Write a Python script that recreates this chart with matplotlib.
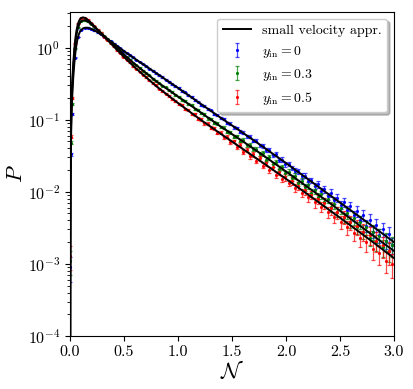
"""
Distribution P(N) of the number of e-folds: binned simulation data with
error bars for three initial velocities, compared with the small velocity
approximation (black lines).
"""

import matplotlib
matplotlib.use('Agg')
import matplotlib.pyplot as plt
import numpy as np
from matplotlib.colors import to_rgba

plt.rcParams['font.family'] = 'serif'
plt.rcParams['font.serif'] = ['cmr10', 'DejaVu Serif']
plt.rcParams['mathtext.fontset'] = 'cm'
plt.rcParams['axes.formatter.use_mathtext'] = True

# ---- simulation histograms (bin centres and values) ----
n_data = [0.003, 0.008] + list(np.round(0.015 + 0.03 * np.arange(100), 3))

p_y0 = [9e-4, 0.033, 0.12, 0.72, 1.40, 1.77, 1.86, 1.88, 1.80, 1.73, 1.62, 1.53, 1.41,
        1.32, 1.23, 1.13, 1.05, 0.97, 0.90, 0.84, 0.78, 0.73,
        0.67, 0.63, 0.59, 0.55, 0.51, 0.48, 0.44,
        0.415, 0.39, 0.36, 0.335, 0.31, 0.29,
        0.275, 0.249, 0.238, 0.217, 0.206, 0.187, 0.178, 0.161, 0.154, 0.139, 0.134, 0.121, 0.116, 0.104,
        0.101, 0.090, 0.088, 0.078, 0.077, 0.068, 0.066, 0.059, 0.058, 0.051,
        0.051, 0.044, 0.043, 0.038, 0.038, 0.032, 0.033, 0.028, 0.028, 0.024,
        0.0244, 0.0213, 0.0196, 0.0194, 0.0166, 0.0168, 0.0142, 0.0144, 0.0122, 0.0127, 0.0104, 0.0108, 0.0087,
        0.0097, 0.0076, 0.0082, 0.0066, 0.0072, 0.0055, 0.0063, 0.0047, 0.0054, 0.0040,
        0.0047, 0.0034, 0.0041, 0.0028, 0.0035, 0.0025, 0.0030, 0.0021, 0.0026, 0.0018]

p_y03 = [1.1e-3, 0.048, 0.165, 0.98, 1.90, 2.32, 2.37, 2.30, 2.11, 1.94, 1.74, 1.61, 1.44,
         1.33, 1.18, 1.09, 0.98, 0.90, 0.81, 0.74, 0.68, 0.61,
         0.57, 0.52, 0.48, 0.44, 0.41, 0.37, 0.345,
         0.32, 0.295, 0.28, 0.255, 0.24, 0.22,
         0.209, 0.189, 0.182, 0.163, 0.158, 0.141, 0.137, 0.122, 0.118, 0.104, 0.102, 0.091, 0.089, 0.079,
         0.077, 0.068, 0.067, 0.058, 0.059, 0.051, 0.052, 0.044, 0.045, 0.039,
         0.039, 0.033, 0.034, 0.028, 0.030, 0.024, 0.026, 0.021, 0.022, 0.018,
         0.0188, 0.0155, 0.0164, 0.0132, 0.0141, 0.0115, 0.0123, 0.0097, 0.0106, 0.0085, 0.0092, 0.0073, 0.0080,
         0.0062, 0.0068, 0.0053, 0.0059, 0.0044, 0.0051, 0.0038, 0.0043, 0.0032, 0.0038,
         0.0028, 0.0032, 0.0023, 0.0028, 0.0020, 0.0024, 0.0017, 0.0021, 0.0015, 0.0018]

p_y05 = [1.3e-3, 0.058, 0.20, 1.13, 2.15, 2.58, 2.57, 2.43, 2.18, 1.98, 1.76, 1.60, 1.42,
         1.29, 1.14, 1.04, 0.92, 0.84, 0.75, 0.68, 0.62, 0.55,
         0.51, 0.46, 0.42, 0.39, 0.35, 0.32, 0.30,
         0.27, 0.25, 0.23, 0.215, 0.195, 0.18,
         0.166, 0.158, 0.141, 0.137, 0.121, 0.118, 0.103, 0.101, 0.089, 0.088, 0.077, 0.076, 0.066, 0.066,
         0.057, 0.058, 0.049, 0.050, 0.042, 0.044, 0.036, 0.038, 0.031, 0.033,
         0.027, 0.029, 0.023, 0.025, 0.020, 0.022, 0.017, 0.019, 0.015, 0.016,
         0.0133, 0.0141, 0.0113, 0.0121, 0.0097, 0.0105, 0.0084, 0.0091, 0.0071, 0.0079, 0.0062, 0.0069, 0.0052,
         0.0059, 0.0045, 0.0052, 0.0038, 0.0045, 0.0032, 0.0038, 0.0027, 0.0033, 0.0023,
         0.0028, 0.0020, 0.0025, 0.0016, 0.0021, 0.0014, 0.0018, 0.0011, 0.0015, 0.0010]

# relative statistical errors of the bins
err_y0 = [0.37, 0.06, 0.032, 0.013, 0.009, 0.008, 0.008, 0.008, 0.008, 0.008, 0.008, 0.008, 0.009,
          0.010, 0.010, 0.010, 0.011, 0.011, 0.012, 0.012, 0.012, 0.013,
          0.014, 0.014, 0.014, 0.015, 0.015, 0.016, 0.017,
          0.017, 0.018, 0.018, 0.019, 0.020, 0.020,
          0.021, 0.022, 0.023, 0.024, 0.024, 0.025, 0.026, 0.027, 0.028, 0.029, 0.030, 0.031, 0.032, 0.034,
          0.035, 0.036, 0.038, 0.039, 0.040, 0.042, 0.043, 0.045, 0.047, 0.048,
          0.050, 0.052, 0.054, 0.056, 0.058, 0.060, 0.062, 0.064, 0.067, 0.069,
          0.072, 0.074, 0.077, 0.080, 0.083, 0.086, 0.089, 0.092, 0.096, 0.10, 0.10, 0.11, 0.11,
          0.12, 0.12, 0.13, 0.13, 0.14, 0.14, 0.15, 0.15, 0.16, 0.17,
          0.17, 0.18, 0.19, 0.19, 0.20, 0.21, 0.22, 0.23, 0.24, 0.25]

err_y03 = [0.36, 0.055, 0.03, 0.012, 0.009, 0.008, 0.008, 0.008, 0.008, 0.009, 0.009, 0.009, 0.010,
           0.010, 0.011, 0.012, 0.012, 0.013, 0.013, 0.014, 0.015, 0.015,
           0.016, 0.017, 0.017, 0.018, 0.019, 0.020, 0.020,
           0.021, 0.022, 0.023, 0.024, 0.025, 0.026,
           0.026, 0.027, 0.028, 0.030, 0.030, 0.032, 0.033, 0.034, 0.035, 0.037, 0.038, 0.039, 0.041, 0.042,
           0.044, 0.045, 0.047, 0.049, 0.050, 0.052, 0.054, 0.056, 0.058, 0.060,
           0.062, 0.064, 0.067, 0.069, 0.072, 0.075, 0.077, 0.080, 0.083, 0.086,
           0.090, 0.093, 0.097, 0.10, 0.10, 0.11, 0.11, 0.12, 0.12, 0.13, 0.13, 0.14, 0.14,
           0.15, 0.15, 0.16, 0.17, 0.17, 0.18, 0.18, 0.19, 0.20, 0.21,
           0.22, 0.22, 0.23, 0.24, 0.25, 0.26, 0.27, 0.28, 0.29, 0.30]

err_y05 = [0.36, 0.054, 0.029, 0.012, 0.009, 0.008, 0.008, 0.008, 0.009, 0.009, 0.010, 0.010, 0.011,
           0.011, 0.012, 0.013, 0.014, 0.014, 0.015, 0.016, 0.017, 0.018,
           0.018, 0.019, 0.020, 0.021, 0.022, 0.023, 0.024,
           0.025, 0.026, 0.027, 0.028, 0.029, 0.031,
           0.032, 0.033, 0.034, 0.036, 0.037, 0.038, 0.040, 0.041, 0.043, 0.045, 0.046, 0.048, 0.050, 0.052,
           0.053, 0.055, 0.057, 0.059, 0.061, 0.064, 0.066, 0.068, 0.071, 0.073,
           0.076, 0.079, 0.082, 0.085, 0.088, 0.091, 0.094, 0.098, 0.10, 0.11,
           0.11, 0.12, 0.12, 0.12, 0.13, 0.13, 0.14, 0.14, 0.15, 0.15, 0.16, 0.17, 0.17,
           0.18, 0.18, 0.19, 0.20, 0.21, 0.21, 0.22, 0.23, 0.24, 0.25,
           0.26, 0.27, 0.28, 0.29, 0.30, 0.31, 0.32, 0.33, 0.35, 0.36]

# ---- small velocity approximation ----
n_theory = [0.002, 0.003, 0.005, 0.008, 0.012, 0.016, 0.02, 0.03, 0.04, 0.05,
            0.06, 0.07, 0.08, 0.09, 0.10, 0.12, 0.14, 0.16, 0.18, 0.20,
            0.24, 0.28, 0.32, 0.40, 0.50, 0.60, 0.70, 0.80, 0.90, 1.0,
            1.2, 1.4, 1.6, 1.8, 2.0, 2.2, 2.4, 2.6, 2.8, 3.0]

th_y0 = [6e-5, 8e-4, 7.9e-3, 0.035, 0.085, 0.14, 0.20, 0.38, 0.60, 0.85,
         1.10, 1.32, 1.50, 1.63, 1.73, 1.84, 1.88, 1.88, 1.85, 1.80,
         1.68, 1.54, 1.40, 1.15, 0.89, 0.70, 0.555, 0.44, 0.348, 0.275,
         0.170, 0.105, 0.0658, 0.0407, 0.025, 0.0151, 0.0091, 0.00552, 0.00334, 0.0020]

th_y03 = [7e-5, 1.2e-3, 0.012, 0.050, 0.120, 0.19, 0.27, 0.52, 0.83, 1.18,
          1.50, 1.78, 2.00, 2.16, 2.28, 2.38, 2.38, 2.31, 2.21, 2.09,
          1.84, 1.62, 1.43, 1.10, 0.80, 0.59, 0.447, 0.339, 0.266, 0.209,
          0.129, 0.0794, 0.0501, 0.0311, 0.0191, 0.0116, 0.00708, 0.0042, 0.00251, 0.00151]

th_y05 = [8e-5, 1.5e-3, 0.015, 0.060, 0.141, 0.219, 0.324, 0.603, 0.955, 1.35,
          1.72, 2.02, 2.27, 2.44, 2.55, 2.62, 2.57, 2.45, 2.31, 2.16,
          1.87, 1.62, 1.40, 1.05, 0.74, 0.53, 0.392, 0.290, 0.222, 0.170,
          0.102, 0.063, 0.0392, 0.0244, 0.0151, 0.00923, 0.0056, 0.00339, 0.00203, 0.0012]

SERIES = [
    (p_y0, err_y0, 'b', r'$y_{\mathrm{in}} = 0$'),
    (p_y03, err_y03, 'g', r'$y_{\mathrm{in}} = 0.3$'),
    (p_y05, err_y05, 'r', r'$y_{\mathrm{in}} = 0.5$'),
]


def main():
    fig, ax = plt.subplots(figsize=(4.13, 3.89), dpi=100)
    fig.subplots_adjust(left=0.1695, right=0.954, bottom=0.1362, top=0.970)

    handles = []
    for vals, rel, color, label in SERIES:
        vals = np.asarray(vals)
        yerr = np.asarray(rel) * vals
        eb = ax.errorbar(n_data, vals, yerr=yerr, fmt='.', ms=2.5, color=color,
                         ecolor=to_rgba(color, 0.7), elinewidth=0.9,
                         capsize=1.5, capthick=0.9, label=label, zorder=2)
        handles.append(eb)

    line = None
    for th in (th_y0, th_y03, th_y05):
        line, = ax.plot(n_theory, th, '-', color='k', lw=1.4, zorder=3)

    ax.set_yscale('log')
    ax.set_xlim(0, 3.0)
    ax.set_ylim(1e-4, 3.14)
    ax.set_xticks(np.arange(0, 3.01, 0.5))
    ax.xaxis.set_major_formatter(plt.FormatStrFormatter('%.1f'))
    ax.tick_params(labelsize=11.5)
    ax.set_xlabel(r'$\mathcal{N}$', fontsize=16, labelpad=0)
    ax.set_ylabel(r'$P$', fontsize=16, labelpad=1)

    ax.legend([line] + handles,
              ['small velocity appr.'] + [s[3] for s in SERIES],
              loc='upper right', fontsize=10, fancybox=True, framealpha=1,
              shadow={'color': '0.55', 'alpha': 0.6})

    fig.savefig('out.png', dpi=100)


if __name__ == '__main__':
    main()
